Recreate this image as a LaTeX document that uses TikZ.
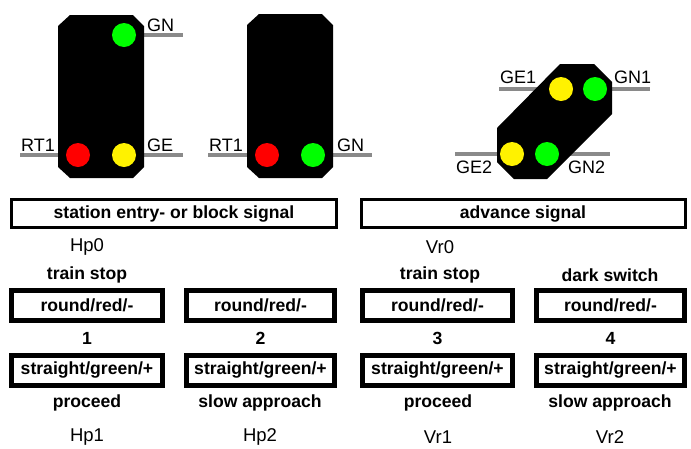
\documentclass[tikz,border=0pt]{standalone}
\usepackage{fontspec}
\setmainfont{Liberation Sans}
\definecolor{railgray}{RGB}{138,138,138}
\begin{document}
\begin{tikzpicture}[x=1pt,y=-1pt,
  body/.style={fill=black,draw=none},
  lamp/.style={circle,minimum size=24pt,inner sep=0pt,draw=none},
  rail/.style={draw=railgray,line width=4pt},
  lbl/.style={inner sep=0pt,font=\fontsize{18}{20}\selectfont},
  txt/.style={inner sep=0pt,font=\fontsize{18.5}{20}\selectfont},
  btxt/.style={inner sep=0pt,font=\fontsize{17.6}{20}\selectfont\bfseries},
  headbox/.style={draw=black,line width=3pt},
  statebox/.style={draw=black,line width=5pt}]
\useasboundingbox (0,0) rectangle (691,448);
% ---------- signal 1 ----------
\coordinate (s1gnA) at (144,35); \coordinate (s1gnB) at (183,35);
\coordinate (s1rtA) at (20,155); \coordinate (s1rtB) at (58,155);
\coordinate (s1geA) at (144,155); \coordinate (s1geB) at (183,155);
\draw[rail] (s1gnA) -- (s1gnB);
\draw[rail] (s1rtA) -- (s1rtB);
\draw[rail] (s1geA) -- (s1geB);
\fill[body] (70,15) -- (133,15) -- (144,26) -- (144,167) -- (133,178) -- (70,178) -- (58,167) -- (58,26) -- cycle;
\node[lamp,fill=green] (s1g) at (124,35) {};
\node[lamp,fill=red] (s1r) at (78,155) {};
\node[lamp,fill=yellow] (s1y) at (124,155) {};
\node[lbl,anchor=base west] (l1) at (147,31) {GN};
\node[lbl,anchor=base west] (l2) at (21,151) {RT1};
\node[lbl,anchor=base west] (l3) at (147,151) {GE};
% ---------- signal 2 ----------
\coordinate (s2rtA) at (208,155); \coordinate (s2rtB) at (247,155);
\coordinate (s2gnA) at (333,155); \coordinate (s2gnB) at (372,155);
\draw[rail] (s2rtA) -- (s2rtB);
\draw[rail] (s2gnA) -- (s2gnB);
\fill[body] (259,14) -- (322,14) -- (333,25) -- (333,167) -- (322,178) -- (259,178) -- (247,167) -- (247,25) -- cycle;
\node[lamp,fill=red] (s2r) at (267,155) {};
\node[lamp,fill=green] (s2g) at (313,155) {};
\node[lbl,anchor=base west] (l4) at (209,151) {RT1};
\node[lbl,anchor=base west] (l5) at (337,151) {GN};
% ---------- advance signal ----------
\coordinate (a1A) at (499,89); \coordinate (a1B) at (540,89);
\coordinate (a2A) at (600,89); \coordinate (a2B) at (650,89);
\coordinate (a3A) at (455,154); \coordinate (a3B) at (505,154);
\coordinate (a4A) at (545,154); \coordinate (a4B) at (610,154);
\draw[rail] (a1A) -- (a1B);
\draw[rail] (a2A) -- (a2B);
\draw[rail] (a3A) -- (a3B);
\draw[rail] (a4A) -- (a4B);
\fill[body] (560,64) -- (594,64) -- (612,82) -- (612,114) -- (547,179) -- (514,179) -- (497,162) -- (497,128) -- cycle;
\node[lamp,fill=yellow] (ay1) at (561,89) {};
\node[lamp,fill=green] (ag1) at (595,89) {};
\node[lamp,fill=yellow] (ay2) at (512,154) {};
\node[lamp,fill=green] (ag2) at (547,154) {};
\node[lbl,anchor=base west] (l6) at (500,83) {GE1};
\node[lbl,anchor=base west] (l7) at (614,83) {GN1};
\node[lbl,anchor=base west] (l8) at (456,173) {GE2};
\node[lbl,anchor=base west] (l9) at (568,173) {GN2};
% ---------- header boxes ----------
\draw[headbox] (11.5,199.5) rectangle (336.5,227.5);
\node[btxt] (h1) at (174,214) {station entry- or block signal};
\draw[headbox] (361.5,199.5) rectangle (685.5,227.5);
\node[btxt] (h2) at (523,214) {advance signal};
% ---------- texts ----------
\node[txt] (hp0) at (87,247) {Hp0};
\node[txt] (vr0) at (440,247) {Vr0};
\node[btxt] (t1) at (87,275) {train stop};
\node[btxt] (t3) at (440,275) {train stop};
\node[btxt] (t4) at (610,275) {dark switch};
% state boxes
\foreach \a/\b/\n in {9/165/1,184/337/2,360/515/3,534/687/4}{
  \draw[statebox] (\a+2.5,290.5) rectangle (\b-2.5,320.5);
  \node[btxt] (r\n) at ({(\a+\b)/2},305) {round/red/-};
  \node[btxt] (n\n) at ({(\a+\b)/2},338) {\n};
  \draw[statebox] (\a+2.5,355.5) rectangle (\b-2.5,385.5);
  \node[btxt] (g\n) at ({(\a+\b)/2},370) {straight/green/+};
}
\node[btxt] (p1) at (87,403) {proceed};
\node[btxt] (p2) at (260,403) {slow approach};
\node[btxt] (p3) at (438,403) {proceed};
\node[btxt] (p4) at (610,403) {slow approach};
\node[txt] (hp1) at (87,437) {Hp1};
\node[txt] (hp2) at (260,437) {Hp2};
\node[txt] (vr1) at (438,437) {Vr1};
\node[txt] (vr2) at (610,437) {Vr2};
\end{tikzpicture}
\end{document}
